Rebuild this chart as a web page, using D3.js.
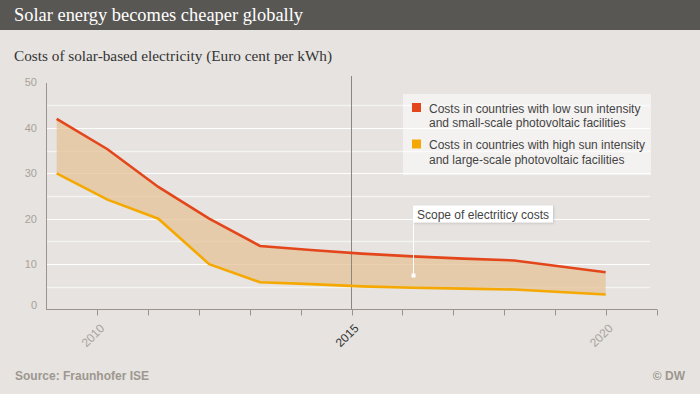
<!DOCTYPE html>
<html lang="en">
<head>
    <meta charset="UTF-8">
    <title>Solar energy becomes cheaper globally</title>
    <script src="https://d3js.org/d3.v7.min.js"></script>
    <style>
        body {
            margin: 0;
            background-color: #e6e3e0;
        }
        svg { display: block; }
        .serif { font-family: "Liberation Serif", "DejaVu Serif", serif; }
        .sans { font-family: "Liberation Sans", Arial, sans-serif; }
        .narrow { font-family: "Liberation Sans Narrow", "Liberation Sans", Arial, sans-serif; font-weight: bold; }
    </style>
</head>
<body>
    <svg id="chart" width="700" height="394"></svg>
    <script>
        // Data
        const years = [2009.2, 2010.2, 2011.2, 2012.2, 2013.2, 2014.2, 2015.2, 2016.2, 2017.2, 2018.2, 2020];
        const lowSunSmall = [42, 35.3, 27, 20, 14, 13.1, 12.3, 11.7, 11.2, 10.8, 8.2];
        const highSunLarge = [30, 24.2, 20, 10, 6, 5.6, 5.1, 4.8, 4.6, 4.4, 3.3];
        const yTicks = [0, 10, 20, 30, 40, 50];
        const gridValues = [5, 10, 15, 20, 25, 30, 35, 40, 45];
        const xTickYears = [2010, 2011, 2012, 2013, 2014, 2015, 2016, 2017, 2018, 2019, 2020, 2021];
        const xLabels = [2010, 2015, 2020];
        const legendItems = [
            { color: "#e4461b", lines: ["Costs in countries with low sun intensity", "and small-scale photovoltaic facilities"] },
            { color: "#f5a800", lines: ["Costs in countries with high sun intensity", "and large-scale photovoltaic facilities"] }
        ];

        const data = years.map((yr, i) => ({ year: yr, high: lowSunSmall[i], low: highSunLarge[i] }));

        const svg = d3.select("#chart");

        // Scales
        const x = d3.scaleLinear().domain([2009, 2021]).range([46.5, 656.5]);
        const y = d3.scaleLinear().domain([0, 50]).range([309.5, 82.5]);

        // Header
        svg.append("rect").attr("x", 0).attr("y", 0).attr("width", 700).attr("height", 30).attr("fill", "#595754");
        svg.append("text").attr("class", "serif")
            .attr("x", 14).attr("y", 21)
            .attr("font-size", 18).attr("fill", "#fff")
            .attr("textLength", 289).attr("lengthAdjust", "spacingAndGlyphs")
            .text("Solar energy becomes cheaper globally");

        svg.append("text").attr("class", "serif")
            .attr("x", 14).attr("y", 61)
            .attr("font-size", 15.5).attr("fill", "#333")
            .attr("textLength", 318).attr("lengthAdjust", "spacingAndGlyphs")
            .text("Costs of solar-based electricity (Euro cent per kWh)");

        // Gridlines
        svg.append("g").selectAll("line")
            .data(gridValues)
            .join("line")
            .attr("x1", 47).attr("x2", 650)
            .attr("y1", d => Math.round(y(d)) + 0.5).attr("y2", d => Math.round(y(d)) + 0.5)
            .attr("stroke", "#fff")
            .attr("stroke-width", d => d % 10 === 0 ? 1.2 : 1.6)
            .attr("stroke-opacity", d => d % 10 === 0 ? 1 : 0.6);

        // Range area
        const area = d3.area()
            .x(d => x(d.year))
            .y0(d => y(d.low))
            .y1(d => y(d.high));
        svg.append("path").datum(data)
            .attr("d", area)
            .attr("fill", "#e5c398")
            .attr("fill-opacity", 0.75);

        // 2015 marker line
        svg.append("line")
            .attr("x1", x(2015)).attr("x2", x(2015))
            .attr("y1", 76).attr("y2", 309.5)
            .attr("stroke", "#8c867f").attr("stroke-width", 1);

        // Lines
        const highLine = d3.line().x(d => x(d.year)).y(d => y(d.high));
        const lowLine = d3.line().x(d => x(d.year)).y(d => y(d.low));
        svg.append("path").datum(data)
            .attr("d", lowLine)
            .attr("fill", "none").attr("stroke", "#f5a800").attr("stroke-width", 2.6);
        svg.append("path").datum(data)
            .attr("d", highLine)
            .attr("fill", "none").attr("stroke", "#e4461b").attr("stroke-width", 2.6);

        // Y axis
        svg.append("line")
            .attr("x1", 46.5).attr("x2", 46.5).attr("y1", 83).attr("y2", 309.5)
            .attr("stroke", "#9a948c");
        svg.append("g").selectAll("text")
            .data(yTicks)
            .join("text").attr("class", "sans")
            .attr("x", 37)
            .attr("y", d => d === 0 ? y(d) - 4 : y(d))
            .attr("dy", "0.35em")
            .attr("text-anchor", "end")
            .attr("font-size", 11)
            .attr("fill", "#a8a29b")
            .text(d => d);

        // X axis
        svg.append("line")
            .attr("x1", 46).attr("x2", 657).attr("y1", 309.5).attr("y2", 309.5)
            .attr("stroke", "#9a948c");
        svg.append("g").selectAll("line")
            .data(xTickYears)
            .join("line")
            .attr("x1", d => Math.round(x(d)) + 0.5).attr("x2", d => Math.round(x(d)) + 0.5)
            .attr("y1", 309.5).attr("y2", 315.5)
            .attr("stroke", "#9a948c");
        svg.append("g").selectAll("text")
            .data(xLabels)
            .join("text").attr("class", "sans")
            .attr("transform", d => `translate(${x(d) + 5},${326}) rotate(-45)`)
            .attr("text-anchor", "end")
            .attr("dy", "0.35em")
            .attr("font-size", 12)
            .attr("fill", d => d === 2015 ? "#333" : "#aaa49d")
            .text(d => d);

        // Legend
        const legend = svg.append("g");
        legend.append("rect")
            .attr("x", 403).attr("y", 94).attr("width", 248).attr("height", 81)
            .attr("fill", "#fff").attr("fill-opacity", 0.55);
        legendItems.forEach((item, i) => {
            const top = 103 + i * 36.5;
            legend.append("rect")
                .attr("x", 412).attr("y", top).attr("width", 9).attr("height", 9)
                .attr("fill", item.color);
            item.lines.forEach((ln, j) => {
                legend.append("text").attr("class", "sans")
                    .attr("x", 429).attr("y", top + 9.5 + j * 14.5)
                    .attr("font-size", 12).attr("fill", "#444")
                    .text(ln);
            });
        });

        // Annotation
        const defs = svg.append("defs");
        const f = defs.append("filter").attr("id", "shadow").attr("x", "-10%").attr("y", "-30%").attr("width", "120%").attr("height", "160%");
        f.append("feDropShadow").attr("dx", 1).attr("dy", 1).attr("stdDeviation", 1).attr("flood-color", "#000").attr("flood-opacity", 0.15);
        const ann = svg.append("g");
        ann.append("line")
            .attr("x1", 413.5).attr("x2", 413.5).attr("y1", 222).attr("y2", 275)
            .attr("stroke", "#fff").attr("stroke-width", 1);
        ann.append("rect")
            .attr("x", 411.5).attr("y", 273.5).attr("width", 4).attr("height", 4)
            .attr("fill", "#fff");
        ann.append("rect")
            .attr("x", 413).attr("y", 205.5).attr("width", 140).attr("height", 17)
            .attr("fill", "#fff").attr("filter", "url(#shadow)");
        ann.append("text").attr("class", "sans")
            .attr("x", 417).attr("y", 218.5)
            .attr("font-size", 12).attr("fill", "#444")
            .text("Scope of electriticy costs");

        // Footer
        svg.append("text").attr("class", "narrow")
            .attr("x", 15).attr("y", 380)
            .attr("font-size", 12).attr("fill", "#9d978f")
            .text("Source: Fraunhofer ISE");
        svg.append("text").attr("class", "narrow")
            .attr("x", 685).attr("y", 380)
            .attr("text-anchor", "end")
            .attr("font-size", 12).attr("fill", "#9d978f")
            .text("© DW");
    </script>
</body>
</html>
